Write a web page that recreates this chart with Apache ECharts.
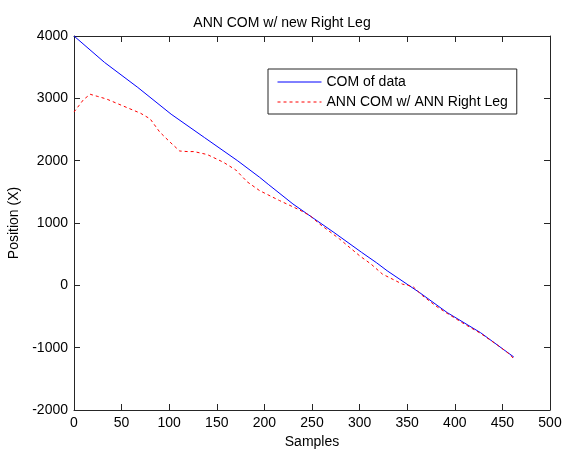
<!DOCTYPE html>
<html>
<head>
<meta charset="utf-8">
<script src="https://cdn.jsdelivr.net/npm/echarts@6/dist/echarts.min.js"></script>
<style>
  html, body { margin: 0; padding: 0; background: #fff; }
  #chart { width: 564px; height: 450px; }
</style>
</head>
<body>
<div id="chart"></div>
<script>
// Values
const comSamples = [0, 32, 67, 102, 137, 172, 195, 204, 230, 245, 273, 302, 318, 329, 354, 363, 392, 427, 462];
const comValues = [4000, 3577, 3175, 2746, 2371, 1997, 1733, 1621, 1305, 1145, 849, 530, 360, 233, -24, -116, -437, -759, -1150];

const annSamples = [0, 5, 10, 17, 25, 34, 52, 70, 80, 90, 101, 111, 120, 126, 140, 157, 170, 182, 195, 216, 237, 248, 258, 279, 300, 312, 324, 345, 356, 366, 380, 392, 410, 427, 445, 458, 463];
const annValues = [2780, 2880, 2980, 3065, 3030, 2990, 2875, 2760, 2670, 2460, 2296, 2155, 2145, 2146, 2098, 1974, 1850, 1660, 1519, 1359, 1209, 1117, 984, 743, 474, 341, 180, 19, -19, -165, -330, -450, -620, -770, -960, -1110, -1200];

const seriesNames = ['COM of data', 'ANN COM w/ ANN Right Leg'];

const font = 'Liberation Sans, Arial, sans-serif';
const axisColor = '#262626';

function pairs(xs, ys) {
  return xs.map((x, i) => [x, ys[i]]);
}

const chart = echarts.init(document.getElementById('chart'));

function boxAxis(extra) {
  return Object.assign({
    type: 'value',
    axisLine: { show: true, onZero: false, lineStyle: { color: axisColor, width: 1 } },
    axisTick: { show: true, inside: true, length: 6, lineStyle: { color: axisColor } },
    splitLine: { show: false },
    axisLabel: { show: false }
  }, extra);
}

const labelStyle = { fontFamily: font, fontSize: 14, color: '#000' };

const option = {
  backgroundColor: '#fff',
  animation: false,
  title: {
    text: 'ANN COM w/ new Right Leg',
    left: 'center',
    top: 11,
    textStyle: Object.assign({ fontWeight: 'normal' }, labelStyle)
  },
  legend: {
    orient: 'vertical',
    left: 268,
    top: 69,
    padding: [6, 9, 5, 9],
    itemGap: 6,
    itemWidth: 44,
    itemHeight: 14,
    backgroundColor: '#fff',
    borderColor: axisColor,
    borderWidth: 1,
    borderRadius: 0,
    itemStyle: { opacity: 0 },
    lineStyle: { width: 1 },
    textStyle: labelStyle,
    data: seriesNames
  },
  grid: { left: 74, right: 14, top: 36, bottom: 40, containLabel: false, outerBoundsMode: 'none' },
  xAxis: [
    boxAxis({
      min: 0, max: 500, interval: 50,
      name: 'Samples', nameLocation: 'middle', nameGap: 25,
      nameTextStyle: labelStyle,
      axisLabel: Object.assign({ show: true, margin: 6 }, labelStyle)
    }),
    boxAxis({ min: 0, max: 500, interval: 50, position: 'top' })
  ],
  yAxis: [
    boxAxis({
      min: -2000, max: 4000, interval: 1000,
      name: 'Position (X)', nameLocation: 'middle', nameGap: 46,
      nameTextStyle: labelStyle,
      axisLabel: Object.assign({ show: true, margin: 6, formatter: v => String(v) }, labelStyle)
    }),
    boxAxis({ min: -2000, max: 4000, interval: 1000, position: 'right' })
  ],
  series: [
    {
      name: seriesNames[0],
      type: 'line',
      xAxisIndex: 0, yAxisIndex: 0,
      symbol: 'none',
      lineStyle: { color: '#0000ff', width: 1 },
      itemStyle: { color: '#0000ff' },
      data: pairs(comSamples, comValues)
    },
    {
      name: seriesNames[1],
      type: 'line',
      xAxisIndex: 0, yAxisIndex: 0,
      symbol: 'none',
      lineStyle: { color: '#ff0000', width: 1, type: [3, 3] },
      itemStyle: { color: '#ff0000' },
      data: pairs(annSamples, annValues)
    }
  ]
};

chart.setOption(option);
</script>
</body>
</html>
